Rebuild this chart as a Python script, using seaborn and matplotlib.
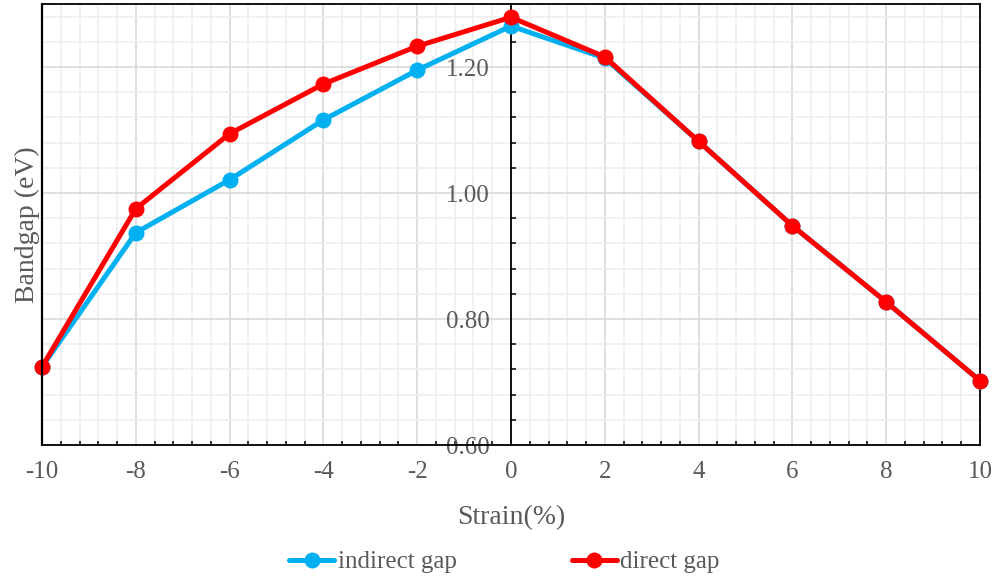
import numpy as np
import pandas as pd
import matplotlib
matplotlib.use("Agg")
import matplotlib.pyplot as plt
import seaborn as sns
from matplotlib.ticker import MultipleLocator, FormatStrFormatter
from matplotlib.lines import Line2D

strain = [-10, -8, -6, -4, -2, 0, 2, 4, 6, 8, 10]
indirect_gap = [0.724, 0.937, 1.021, 1.116, 1.195, 1.265, 1.214, 1.082, 0.948, 0.827, 0.702]
direct_gap = [0.724, 0.975, 1.094, 1.173, 1.233, 1.279, 1.216, 1.082, 0.948, 0.827, 0.702]
series_names = ["indirect gap", "direct gap"]
x_ticks = [-10, -8, -6, -4, -2, 0, 2, 4, 6, 8, 10]
y_ticks = [0.60, 0.80, 1.00, 1.20]

df = pd.DataFrame({
    "Strain": strain * 2,
    "Bandgap": indirect_gap + direct_gap,
    "series": [series_names[0]] * len(strain) + [series_names[1]] * len(strain),
})

sns.set_theme(style="white")
plt.rcParams['font.family'] = ['Liberation Serif', 'DejaVu Serif']
plt.rcParams['axes.unicode_minus'] = False

TXT = "#595959"
fig = plt.figure(figsize=(9.93, 5.81), dpi=100)
ax = fig.add_axes([42/993, 1 - 445/581, (980-42)/993, (445-4)/581])

palette = {"indirect gap": "#00B0F0", "direct gap": "#FF0000"}
sns.lineplot(data=df, x="Strain", y="Bandgap", hue="series", palette=palette,
             marker="o", markersize=11.5, linewidth=3.6, markeredgewidth=0,
             ax=ax, legend=False, zorder=5, clip_on=False)

ax.set_xlim(-10, 10)
ax.set_ylim(0.6, 1.3)
ax.xaxis.set_minor_locator(MultipleLocator(0.4))
ax.yaxis.set_minor_locator(MultipleLocator(0.04))
ax.set_xticks(x_ticks)
ax.set_yticks(y_ticks)
ax.yaxis.set_major_formatter(FormatStrFormatter('%.2f'))

ax.grid(which='major', color='#d9d9d9', linewidth=1.2, zorder=0)
ax.grid(which='minor', color='#efefef', linewidth=1.2, zorder=0)
ax.set_axisbelow(True)

ax.spines['left'].set_position(('data', 0))
for s in ['left', 'right', 'top', 'bottom']:
    ax.spines[s].set_visible(True)
    ax.spines[s].set_color('black')
    ax.spines[s].set_linewidth(1.3)
ax.axvline(-10, color='black', linewidth=1.6, zorder=6, clip_on=False)

ax.tick_params(axis='x', which='major', direction='out', length=6.5, width=1.3,
               color='black', labelsize=18, labelcolor=TXT, pad=5, top=False)
ax.tick_params(axis='x', which='minor', direction='in', length=3, width=1.1,
               color='black', top=False, bottom=True)
ax.tick_params(axis='y', which='major', direction='inout', length=8.5, width=1.3,
               color='black', labelsize=18, labelcolor=TXT, pad=11, right=False)
ax.tick_params(axis='y', which='minor', direction='in', length=3.5, width=1.1,
               color='black', right=False, left=True)

ax.set_xlabel("Strain(%)", fontsize=20, color=TXT, labelpad=16)
ax.set_ylabel("")
fig.text(27/993, 1 - 225/581, "Bandgap (eV)", rotation=90, fontsize=20,
         color=TXT, ha='center', va='center')

handles = [Line2D([], [], color=palette[n], marker='o', markersize=11.5,
                  linewidth=3.6, markeredgewidth=0) for n in series_names]
fig.legend(handles, series_names, loc='center', bbox_to_anchor=(0.508, 1 - 562/581),
           ncol=2, frameon=False, fontsize=18, labelcolor=TXT,
           handlelength=1.8, handletextpad=0.15, columnspacing=4.6)

fig.savefig("out.png", dpi=100)
